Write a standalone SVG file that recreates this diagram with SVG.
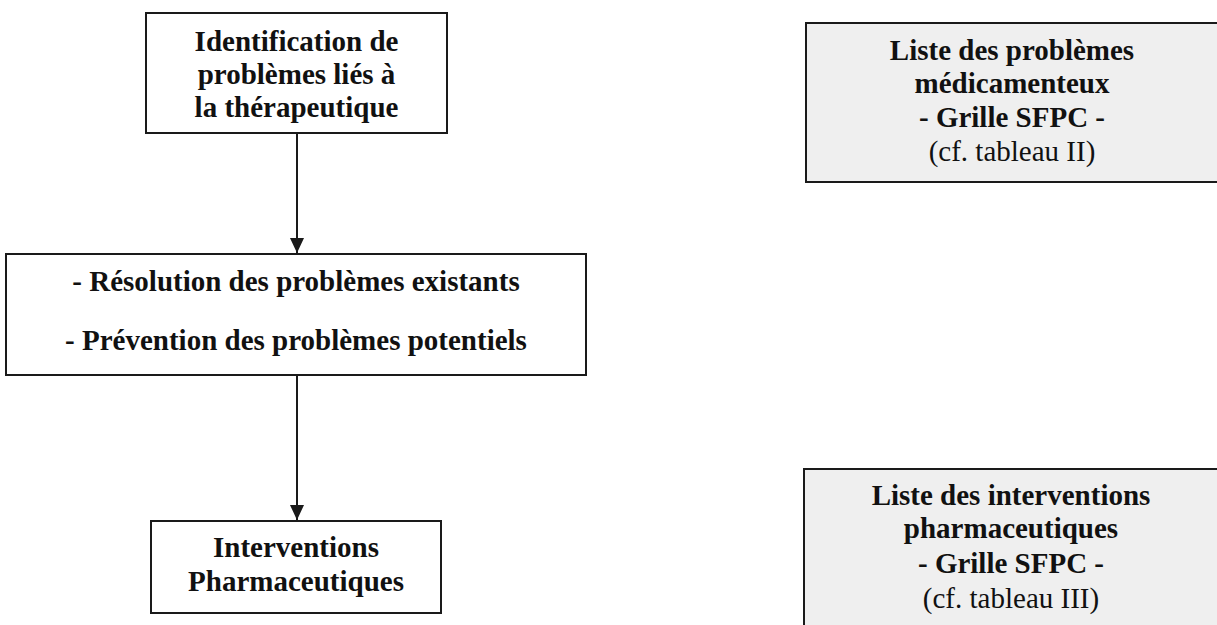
<svg xmlns="http://www.w3.org/2000/svg" width="1217" height="625" viewBox="0 0 1217 625">
<style>
.box{fill:#ffffff;stroke:#1a1a1a;stroke-width:2}
.gbox{fill:#efefef;stroke:#1a1a1a;stroke-width:2}
.t{font-family:"Liberation Serif","Times New Roman",serif;font-size:29px;font-weight:bold;fill:#111;text-anchor:middle}
.n{font-weight:normal}
.c{stroke:#1a1a1a;stroke-width:2;fill:none;marker-end:url(#ah)}
</style>
<defs>
<marker id="ah" markerWidth="15" markerHeight="14" refX="15" refY="7" orient="auto" markerUnits="userSpaceOnUse" viewBox="0 0 15 14">
<path d="M0,0 L15,7 L0,14 Z" fill="#1a1a1a"/>
</marker>
</defs>
<rect width="1217" height="625" fill="#ffffff"/>
<g id="connectors">
<line class="c" x1="297" y1="134" x2="297" y2="253"/>
<line class="c" x1="297" y1="376" x2="297" y2="520"/>
</g>
<g id="node-identification">
<rect class="box" x="146" y="13" width="301" height="120"/>
<text class="t" x="296.5" y="51">Identification de</text>
<text class="t" x="296.5" y="84">problèmes liés à</text>
<text class="t" x="296.5" y="117">la thérapeutique</text>
</g>
<g id="node-resolution">
<rect class="box" x="6" y="254" width="580" height="121"/>
<text class="t" x="296" y="291">- Résolution des problèmes existants</text>
<text class="t" x="296" y="350">- Prévention des problèmes potentiels</text>
</g>
<g id="node-interventions">
<rect class="box" x="151" y="521" width="290" height="92"/>
<text class="t" x="296" y="557">Interventions</text>
<text class="t" x="296" y="591">Pharmaceutiques</text>
</g>
<g id="node-liste-problemes">
<rect class="gbox" x="806" y="23" width="420" height="159"/>
<text class="t" x="1012" y="60">Liste des problèmes</text>
<text class="t" x="1012" y="93">médicamenteux</text>
<text class="t" x="1012" y="127">- Grille SFPC -</text>
<text class="t n" x="1012" y="161">(cf. tableau II)</text>
</g>
<g id="node-liste-interventions">
<rect class="gbox" x="804" y="469" width="422" height="170"/>
<text class="t" x="1011" y="505">Liste des interventions</text>
<text class="t" x="1011" y="538">pharmaceutiques</text>
<text class="t" x="1011" y="573">- Grille SFPC -</text>
<text class="t n" x="1011" y="608">(cf. tableau III)</text>
</g>
</svg>
